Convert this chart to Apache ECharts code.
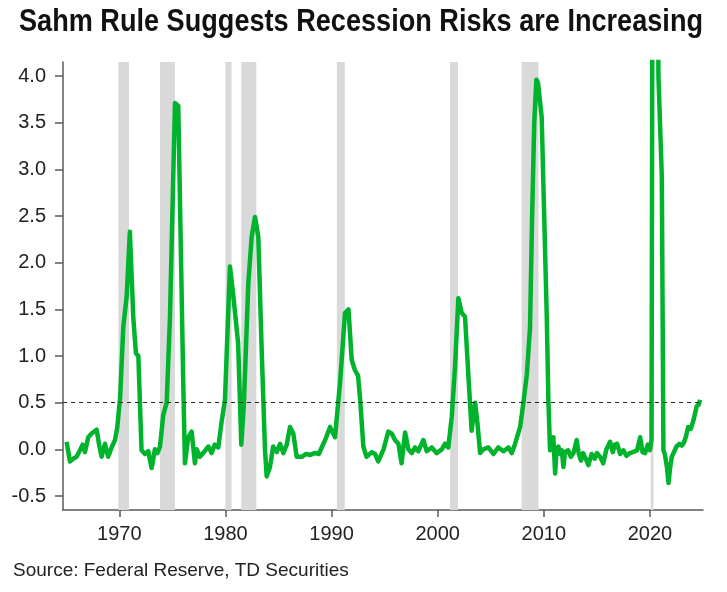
<!DOCTYPE html>
<html>
<head>
<meta charset="utf-8">
<script src="https://cdn.jsdelivr.net/npm/echarts@6/dist/echarts.min.js"></script>
<style>
html,body{margin:0;padding:0;background:#fff;}
#chart{width:727px;height:592px;}
</style>
</head>
<body>
<div id="chart"></div>
<script>
// Decimal-year positions of the Sahm Rule readings
const years = [
1965.04,1965.35,1965.66,1965.98,1966.3,1966.55,1966.77,1967.08,1967.4,1967.87,1968.1,1968.34,1968.65,1968.96,1969.28,1969.6,1969.81,1970.0,
1970.08,1970.38,1970.7,1971.0,1971.32,1971.57,1971.8,1972.1,1972.42,1972.73,1973.05,1973.36,1973.6,1973.84,
1974.15,1974.47,1974.78,1975.25,1975.56,1976.03,1976.19,1976.5,1976.82,1977.13,1977.3,1977.6,1977.9,1978.4,1978.7,1979.0,1979.33,1979.65,1979.96,
1980.43,1980.75,1981.2,1981.5,1981.75,1982.16,1982.48,1982.79,1983.1,1983.42,1983.73,1983.89,
1984.2,1984.5,1984.84,1985.15,1985.46,1985.78,1986.09,1986.4,1986.72,1987.2,1987.6,1988.0,1988.4,1988.8,1989.4,1989.86,1990.33,1990.8,
1991.27,1991.6,1991.9,1992.2,1992.5,1992.7,1993.0,1993.3,1993.8,1994.1,1994.4,1994.9,1995.35,1995.67,1995.98,1996.3,1996.6,1996.93,
1997.24,1997.56,1997.87,1998.18,1998.65,1998.97,1999.44,1999.9,2000.39,2000.7,2001.0,2001.33,2001.64,2001.95,2002.27,2002.58,2002.9,
2003.2,2003.53,2003.75,2004.0,2004.3,2004.78,2005.25,2005.72,2006.2,2006.66,2006.98,2007.3,2007.77,2008.08,2008.4,2008.7,2008.9,2009.1,
2009.3,2009.45,2009.8,2009.96,2010.28,2010.43,2010.59,2010.75,2010.9,2011.07,2011.2,2011.38,2011.55,2011.7,2011.85,2012.0,2012.3,2012.55,
2012.8,2013.1,2013.3,2013.5,2013.7,2013.95,2014.2,2014.5,2014.8,2015.0,2015.3,2015.6,2015.9,2016.25,2016.5,2016.7,2016.9,2017.2,2017.5,
2017.8,2018.1,2018.4,2018.8,2019.08,2019.3,2019.55,2019.8,2020.0,2020.15,2020.25,2020.4,2020.5,2020.7,2020.8,2021.12,2021.27,2021.4,
2021.6,2021.75,2021.9,2022.06,2022.3,2022.5,2022.8,2023.0,2023.2,2023.4,2023.6,2023.85,2024.1,2024.4,2024.6,2024.73
];
const sahm = [
0.08,-0.13,-0.10,-0.08,-0.01,0.05,-0.03,0.13,0.17,0.21,0.05,-0.08,0.06,-0.08,0.02,0.10,0.23,0.46,
0.55,1.31,1.64,2.33,1.42,1.03,1.00,-0.01,-0.05,-0.02,-0.20,0.00,-0.04,0.03,
0.37,0.50,1.42,3.71,3.68,0.71,-0.15,0.13,0.19,-0.15,0.00,-0.08,-0.04,0.03,-0.04,0.05,0.02,0.30,0.53,
1.96,1.64,1.14,0.05,0.50,1.78,2.28,2.49,2.28,1.06,0.00,-0.29,
-0.19,0.03,-0.03,0.06,-0.04,0.05,0.24,0.17,-0.08,-0.08,-0.05,-0.06,-0.04,-0.05,0.10,0.24,0.13,0.71,
1.46,1.50,0.96,0.85,0.79,0.53,0.03,-0.08,-0.03,-0.05,-0.13,0.00,0.19,0.17,0.10,0.06,-0.15,0.18,
0.00,-0.04,0.02,-0.02,0.10,-0.02,0.02,-0.04,0.00,0.06,0.02,0.35,0.89,1.62,1.46,1.42,0.78,
0.20,0.50,0.28,-0.04,0.00,0.02,-0.05,0.02,-0.02,0.02,-0.04,0.06,0.24,0.50,0.80,1.30,2.50,3.50,
3.96,3.93,3.56,2.85,1.42,0.53,-0.01,0.08,0.13,-0.26,0.00,0.03,-0.05,-0.01,-0.19,-0.03,-0.01,-0.08,
-0.04,0.10,-0.05,-0.12,-0.04,-0.10,-0.17,-0.05,-0.10,-0.04,-0.08,-0.15,0.00,0.08,-0.03,0.05,0.06,-0.05,-0.01,
-0.07,-0.04,-0.03,-0.01,0.13,-0.03,-0.04,0.05,-0.01,0.10,6.00,9.00,9.50,6.00,4.00,2.92,-0.01,-0.05,
-0.19,-0.36,-0.20,-0.08,-0.02,0.03,0.06,0.04,0.07,0.14,0.24,0.22,0.31,0.46,0.48,0.53
];
// NBER recessions (decimal years)
const recessionStart = [1969.917,1973.833,1980.0,1981.5,1990.5,2001.167,2007.917,2020.083];
const recessionEnd   = [1970.917,1975.25,1980.583,1982.917,1991.25,2001.917,2009.5,2020.333];
const xTicks = [1970,1980,1990,2000,2010,2020];
const yTicks = [-0.5,0,0.5,1,1.5,2,2.5,3,3.5,4];
const threshold = 0.5;
const titleText = 'Sahm Rule Suggests Recession Risks are Increasing';
const sourceText = 'Source: Federal Reserve, TD Securities';

const lineData = years.map((y,i)=>[y,sahm[i]]);
const bands = recessionStart.map((s,i)=>[{xAxis:s},{xAxis:recessionEnd[i]}]);

// condensed bold title: measure and squeeze horizontally to the reference width
const titleFont = 'bold 31px "Liberation Sans", Arial, sans-serif';
const mctx = document.createElement('canvas').getContext('2d');
mctx.font = titleFont;
const titleW = mctx.measureText(titleText).width;
const titleScale = 684 / titleW;

const chart = echarts.init(document.getElementById('chart'), null, {renderer:'canvas'});
const axisCol = '#5a5a5a';
chart.setOption({
  animation:false,
  backgroundColor:'#fff',
  title:[
    {text:sourceText,left:13,top:561,padding:0,textStyle:{fontFamily:'Liberation Sans',fontWeight:'normal',fontSize:19,color:'#222'}}
  ],
  graphic:[
    {type:'text',x:19,y:7,scaleX:titleScale,scaleY:1,silent:true,
     style:{text:titleText,font:titleFont,fill:'#111',align:'left',verticalAlign:'top'}}
  ],
  grid:{left:63,right:24,top:62,bottom:82,containLabel:false},
  xAxis:{
    type:'value',min:1964.7,max:2025.0,
    axisLine:{show:true,onZero:false,lineStyle:{color:axisCol,width:1.5}},
    axisTick:{show:true,length:7,customValues:xTicks,lineStyle:{color:axisCol,width:1.5}},
    axisLabel:{customValues:xTicks,formatter:v=>String(Math.round(v)),fontFamily:'Liberation Sans',fontSize:20,color:'#222',margin:14},
    splitLine:{show:false}
  },
  yAxis:{
    type:'value',min:-0.65,max:4.15,
    axisLine:{show:true,onZero:false,lineStyle:{color:axisCol,width:1.5}},
    axisTick:{show:true,length:8,customValues:yTicks,lineStyle:{color:axisCol,width:1.5}},
    axisLabel:{customValues:yTicks,formatter:v=>v.toFixed(1),fontFamily:'Liberation Sans',fontSize:20,color:'#222',margin:17},
    splitLine:{show:false}
  },
  series:[
    {type:'line',data:[],z:1,silent:true,
     markArea:{silent:true,itemStyle:{color:'#d9d9d9'},data:bands}},
    {type:'line',data:lineData,z:3,showSymbol:false,symbol:'none',clip:true,silent:true,
     lineStyle:{color:'#00b32c',width:4.5,join:'round'},
     markLine:{silent:true,symbol:'none',label:{show:false},
       lineStyle:{color:'#222',type:[4,4],width:1.2},data:[{yAxis:threshold}]}}
  ]
});
</script>
</body>
</html>
